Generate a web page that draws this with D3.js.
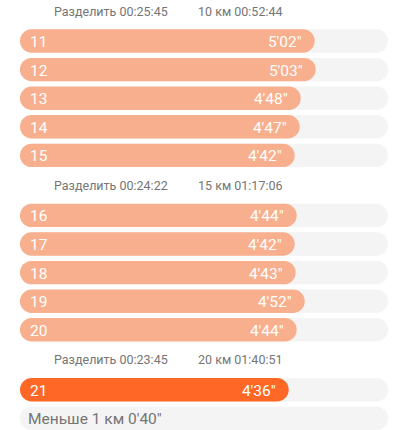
<html>
<head>
<meta charset="utf-8">
<script src="https://cdn.jsdelivr.net/npm/d3@7"></script>
<style>
body { margin: 0; background: #fff; }
svg { display: block; font-family: Roboto, "Noto Sans", sans-serif; }
</style>
</head>
<body>
<div id="container"></div>
<script>
// laps, pace in seconds per km
var laps = ["11", "12", "13", "14", "15", "16", "17", "18", "19", "20", "21"];
var paceSec = [302, 303, 288, 287, 282, 284, 282, 283, 292, 284, 276];
var lapSection = [0, 0, 0, 0, 0, 1, 1, 1, 1, 1, 2];

var splitLabels = ["Разделить 00:25:45", "Разделить 00:24:22", "Разделить 00:23:45"];
var cumLabels = ["10 км 00:52:44", "15 км 01:17:06", "20 км 01:40:51"];
var remainderLabel = "Меньше 1 км 0'40\"";

var width = 400, height = 430;
var barH = 23.4;

function fmtPace(s) {
    var m = Math.floor(s / 60), r = s % 60;
    return m + "'" + (r < 10 ? "0" + r : r) + '"';
}

var svg = d3.select("#container").append("svg")
    .attr("width", width)
    .attr("height", height);

var x = d3.scaleLinear().domain([7.3, 375.3]).range([20, 388]);
// slot index -> row centre
var y = d3.scaleLinear().domain([0, 1]).range([41, 69.6]);
var headerSlots = 1.098;

function slotOf(i) { return i + lapSection[i] * headerSlots; }

var fastest = d3.min(paceSec);

// section headers
var headers = svg.selectAll("g.header")
    .data(splitLabels)
    .enter()
    .append("g")
    .attr("class", "header")
    .attr("transform", function(d, k) {
        var first = lapSection.indexOf(k);
        return "translate(0," + (y(slotOf(first)) - 25.5) + ")";
    });

headers.append("text")
    .attr("x", 54)
    .attr("font-size", 12.5)
    .attr("fill", "#757575")
    .text(function(d) { return d; });

headers.append("text")
    .attr("x", 198)
    .attr("font-size", 12.5)
    .attr("fill", "#757575")
    .text(function(d, k) { return cumLabels[k]; });

// lap rows
var rows = svg.selectAll("g.lap")
    .data(laps)
    .enter()
    .append("g")
    .attr("class", "lap")
    .attr("transform", function(d, i) { return "translate(0," + y(slotOf(i)) + ")"; });

rows.append("rect")
    .attr("x", x.range()[0])
    .attr("y", -barH / 2)
    .attr("width", x.range()[1] - x.range()[0])
    .attr("height", barH)
    .attr("rx", barH / 2)
    .attr("fill", "#f4f4f4");

rows.append("rect")
    .attr("x", x.range()[0])
    .attr("y", -barH / 2)
    .attr("width", function(d, i) { return x(paceSec[i]) - x.range()[0]; })
    .attr("height", barH)
    .attr("rx", barH / 2)
    .attr("fill", function(d, i) { return paceSec[i] === fastest ? "#ff6726" : "#f8af8d"; });

rows.append("text")
    .attr("x", 30)
    .attr("y", 6)
    .attr("font-size", 15.5)
    .attr("fill", "#fff")
    .text(function(d) { return d; });

rows.append("text")
    .attr("x", function(d, i) { return x(paceSec[i]) - 13; })
    .attr("y", 6)
    .attr("font-size", 15.5)
    .attr("fill", "#fff")
    .attr("text-anchor", "end")
    .text(function(d, i) { return fmtPace(paceSec[i]); });

// remainder row
var last = svg.append("g")
    .attr("transform", "translate(0," + y(slotOf(laps.length - 1) + 1) + ")");

last.append("rect")
    .attr("x", x.range()[0])
    .attr("y", -barH / 2)
    .attr("width", x.range()[1] - x.range()[0])
    .attr("height", barH)
    .attr("rx", barH / 2)
    .attr("fill", "#f4f4f4");

last.append("text")
    .attr("x", 28)
    .attr("y", 6)
    .attr("font-size", 15.5)
    .attr("fill", "#757575")
    .text(remainderLabel);
</script>
</body>
</html>
